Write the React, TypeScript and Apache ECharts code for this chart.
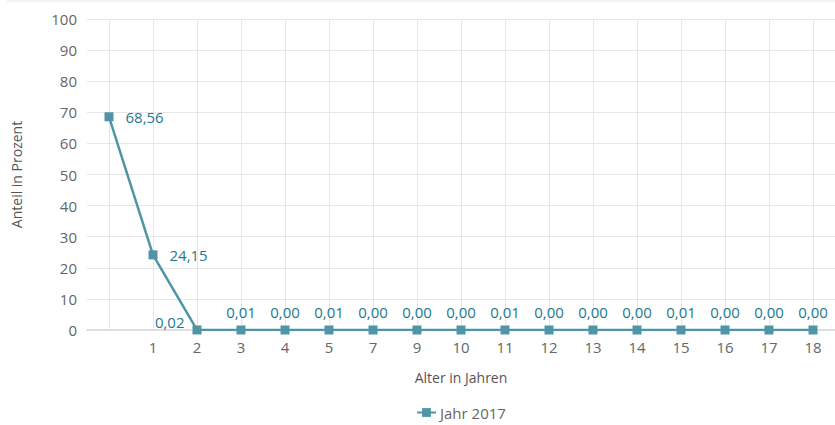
import React, { useEffect, useRef } from "react";
import * as echarts from "echarts";

const categories = ["", "1", "2", "3", "4", "5", "7", "9", "10", "11", "12", "13", "14", "15", "16", "17", "18"];
const values2017 = [68.56, 24.15, 0.02, 0.01, 0.0, 0.01, 0.0, 0.0, 0.0, 0.01, 0.0, 0.0, 0.0, 0.01, 0.0, 0.0, 0.0];
const seriesName = "Jahr 2017";

const fmt = (v: number) => v.toFixed(2).replace(".", ",");

export default function App() {
  const ref = useRef<HTMLDivElement>(null);
  useEffect(() => {
    if (!ref.current) return;
    const chart = echarts.init(ref.current, undefined, { renderer: "svg" });
    const font = "'Open Sans', sans-serif";
    const lineColor = "#4f95a5";
    const labelColor = "#23798a";
    chart.setOption({
      animation: false,
      textStyle: { fontFamily: font },
      graphic: [
        {
          type: "line",
          shape: { x1: 7, y1: 1, x2: 835, y2: 1 },
          style: { stroke: "#e6e6e6", lineWidth: 1 },
        },
      ],
      grid: { left: 87, right: 0, top: 19, bottom: 95, containLabel: false },
      legend: {
        bottom: 0,
        left: 411,
        itemWidth: 19,
        itemHeight: 11,
        itemGap: 4,
        textStyle: { color: "#666", fontSize: 15, fontFamily: font, padding: [0, 0, 0, -1] },
        data: [{ name: seriesName }],
      },
      xAxis: {
        type: "category",
        data: categories,
        boundaryGap: true,
        name: "Alter in Jahren",
        nameLocation: "middle",
        nameGap: 40,
        nameTextStyle: { color: "#555", fontSize: 14, fontFamily: font },
        axisLine: { show: true, lineStyle: { color: "#dedede", width: 2 } },
        axisTick: { show: false },
        axisLabel: { color: "#666", fontSize: 15, margin: 9, fontFamily: font },
        splitLine: { show: true, alignWithLabel: true, lineStyle: { color: "#e6e6e6", width: 1 } },
      },
      yAxis: {
        type: "value",
        min: 0,
        max: 100,
        interval: 10,
        name: "Anteil in Prozent",
        nameLocation: "middle",
        nameGap: 64,
        nameRotate: 90,
        nameTextStyle: { color: "#555", fontSize: 14, fontFamily: font },
        axisLine: { show: false },
        axisTick: { show: false },
        axisLabel: { color: "#666", fontSize: 15, margin: 10, fontFamily: font },
        splitLine: { show: true, lineStyle: { color: "#e6e6e6", width: 1 } },
      },
      series: [
        {
          name: seriesName,
          type: "line",
          data: values2017.map((v, i) => {
            let label: any = { position: "top", distance: 6 };
            if (i < 2) label = { position: "right", distance: 12 };
            if (i === 2) label = { position: "left", distance: 8, offset: [0, -8] };
            return { value: v, label };
          }),
          symbol: "rect",
          symbolSize: 9,
          itemStyle: { color: lineColor },
          lineStyle: { color: lineColor, width: 2.5 },
          label: {
            show: true,
            color: labelColor,
            fontSize: 15,
            fontFamily: font,
            formatter: (p: any) => fmt(p.value),
          },
        },
      ],
    });
    return () => chart.dispose();
  }, []);
  return <div ref={ref} style={{ width: 835, height: 425, position: "absolute", left: 0, top: 0 }} />;
}
